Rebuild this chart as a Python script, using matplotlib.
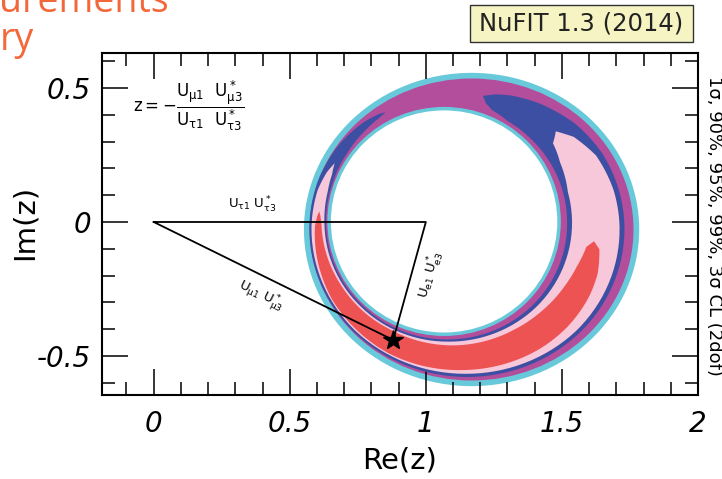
import numpy as np
import matplotlib.pyplot as plt
from matplotlib.patches import Ellipse, Rectangle
from matplotlib.path import Path
from matplotlib.ticker import MultipleLocator

plt.rcParams['font.family'] = ['DejaVu Sans']
plt.rcParams['mathtext.default'] = 'regular'

# axes ranges and labelled ticks
re_lim = (-0.19, 2.0)
im_lim = (-0.645, 0.63)
re_ticks = [0, 0.5, 1, 1.5, 2]
re_labels = ['0', '0.5', '1', '1.5', '2']
im_ticks = [-0.5, 0, 0.5]
im_labels = ['-0.5', '0', '0.5']

# unitarity triangle and best fit point
tri_re = [0, 1, 0.88, 0]
tri_im = [0, 0, -0.44, 0]
best_re = 0.88
best_im = -0.44

# inner hole and outer edge of the allowed ring (3 sigma)
hole_center = (1.067, 0.002)
hole_radii = (0.416, 0.414)
edge_center = (1.168, -0.028)
edge_radii = (0.616, 0.584)
cyan_in = 0.013
cyan_out = 0.021

# contours: angle around the ring (deg) and fraction across it (0 = hole, 1 = edge)
blue_phi = [79, 75, 70, 60, 45, 30, 0, -45, -90, -135, -180, -200, -215, -228, -236, -239]
blue_lo = [0.45, 0.30, 0.20, 0.13, 0.12, 0.12, 0.12, 0.13, 0.13, 0.14, 0.18, 0.20, 0.25, 0.33, 0.40, 0.45]
blue_hi = [0.45, 0.55, 0.62, 0.70, 0.78, 0.81, 0.82, 0.83, 0.83, 0.82, 0.80, 0.78, 0.72, 0.62, 0.52, 0.45]

pink_phi = [45, 40, 30, 15, 0, -45, -90, -135, -180, -195, -203, -208]
pink_lo = [0.48, 0.32, 0.24, 0.18, 0.18, 0.18, 0.17, 0.19, 0.24, 0.28, 0.35, 0.46]
pink_hi = [0.48, 0.62, 0.72, 0.75, 0.76, 0.78, 0.77, 0.77, 0.72, 0.68, 0.58, 0.46]

red_phi = [-7, -10, -20, -30, -45, -60, -90, -120, -150, -170, -180, -184, -186]
red_lo = [0.46, 0.38, 0.33, 0.30, 0.27, 0.25, 0.24, 0.22, 0.26, 0.32, 0.35, 0.40, 0.46]
red_hi = [0.46, 0.54, 0.60, 0.63, 0.66, 0.68, 0.70, 0.74, 0.72, 0.64, 0.59, 0.52, 0.46]

c_cyan = '#68C9DA'
c_magenta = '#B24E9B'
c_blue = '#3C4FA3'
c_pink = '#F7C8DA'
c_red = '#EE5354'


def ring_xy(phi, t):
    a = np.radians(phi)
    hx = hole_center[0] + hole_radii[0] * np.cos(a)
    hy = hole_center[1] + hole_radii[1] * np.sin(a)
    ox = edge_center[0] + edge_radii[0] * np.cos(a)
    oy = edge_center[1] + edge_radii[1] * np.sin(a)
    return hx + t * (ox - hx), hy + t * (oy - hy)


def draw_band(ax, phi, lo, hi, color):
    verts = list(zip(phi, hi)) + list(zip(phi[::-1], lo[::-1]))
    verts.append(verts[0])
    band = Path(np.array(verts, float)).interpolated(16)
    x, y = ring_xy(band.vertices[:, 0], band.vertices[:, 1])
    ax.fill(x, y, color=color, lw=0, zorder=2)


fig = plt.figure(figsize=(7.22, 4.79), dpi=100)
ax = fig.add_axes([102 / 722, 84 / 479, 596 / 722, 342 / 479])
ax.set_xlim(*re_lim)
ax.set_ylim(*im_lim)

# full 3 sigma and 99% rings
ax.add_patch(Ellipse(edge_center, 2 * edge_radii[0], 2 * edge_radii[1],
                     fc=c_cyan, lw=0, zorder=1))
ax.add_patch(Ellipse(edge_center, 2 * (edge_radii[0] - cyan_out),
                     2 * (edge_radii[1] - cyan_out), fc=c_magenta, lw=0, zorder=1))

draw_band(ax, blue_phi, blue_lo, blue_hi, c_blue)
draw_band(ax, pink_phi, pink_lo, pink_hi, c_pink)
draw_band(ax, red_phi, red_lo, red_hi, c_red)

# inner edge of the ring
ax.add_patch(Ellipse(hole_center, 2 * (hole_radii[0] + cyan_in),
                     2 * (hole_radii[1] + cyan_in), fc=c_cyan, lw=0, zorder=3))
ax.add_patch(Ellipse(hole_center, 2 * hole_radii[0], 2 * hole_radii[1],
                     fc='white', lw=0, zorder=3))

ax.plot(tri_re, tri_im, color='black', lw=1.3, zorder=4)
ax.plot(best_re, best_im, marker='*', color='black', ms=15, zorder=5)

ax.text(0.361, 0.062, r'$U_{\tau1}\ U^*_{\tau3}$', fontsize=9.5,
        ha='center', va='center', zorder=5)
ax.text(0.395, -0.276, r'$U_{\mu1}\ U^*_{\mu3}$', fontsize=9.5, rotation=-26,
        ha='center', va='center', zorder=5)
ax.text(1.019, -0.198, r'$U_{e1}\ U^*_{e3}$', fontsize=9.5, rotation=74,
        ha='center', va='center', zorder=5)
ax.text(-0.076, 0.433,
        r'$z=-\dfrac{U_{\mu1}\ \ U^*_{\mu3}}{U_{\tau1}\ \ U^*_{\tau3}}$',
        fontsize=12, ha='left', va='center', zorder=5)

ax.set_xticks(re_ticks, re_labels, fontsize=20, fontstyle='italic')
ax.set_yticks(im_ticks, im_labels, fontsize=20, fontstyle='italic')
ax.xaxis.set_minor_locator(MultipleLocator(0.1))
ax.yaxis.set_minor_locator(MultipleLocator(0.1))
ax.tick_params(which='both', direction='in', top=True, right=True,
               width=1.1, color='black')
ax.tick_params(which='major', length=19)
ax.tick_params(which='minor', length=9.5)
ax.tick_params(axis='x', which='major', pad=11)
ax.tick_params(axis='y', which='major', pad=8)
for sp in ax.spines.values():
    sp.set_linewidth(1.5)

fig.text(25 / 722, 1 - 222 / 479, 'Im(z)', fontsize=21, rotation=90,
         ha='center', va='center')
fig.text(400 / 722, 1 - 461 / 479, 'Re(z)', fontsize=21,
         ha='center', va='center')
fig.text(714 / 722, 1 - 226 / 479, '1σ, 90%, 95%, 99%, 3σ CL (2dof)',
         fontsize=13, rotation=-90, ha='center', va='center')

# version tag
fig.patches.append(Rectangle((470 / 722, 1 - 42 / 479), 223 / 722, 37 / 479,
                             transform=fig.transFigure, fc='#F6F4C3',
                             ec='#333333', lw=1.0))
fig.text(581.5 / 722, 1 - 24 / 479, 'NuFIT 1.3 (2014)', fontsize=17.5,
         color='#222222', ha='center', va='center')

# slide title fragments
fig.text(-0.002, 1 - 12 / 479, 'urements', fontsize=27, family='Open Sans',
         color='#F3683A', va='baseline')
fig.text(0.0, 1 - 50 / 479, 'ry', fontsize=27, family='Open Sans',
         color='#F3683A', va='baseline')

fig.savefig('out.png', dpi=100)
